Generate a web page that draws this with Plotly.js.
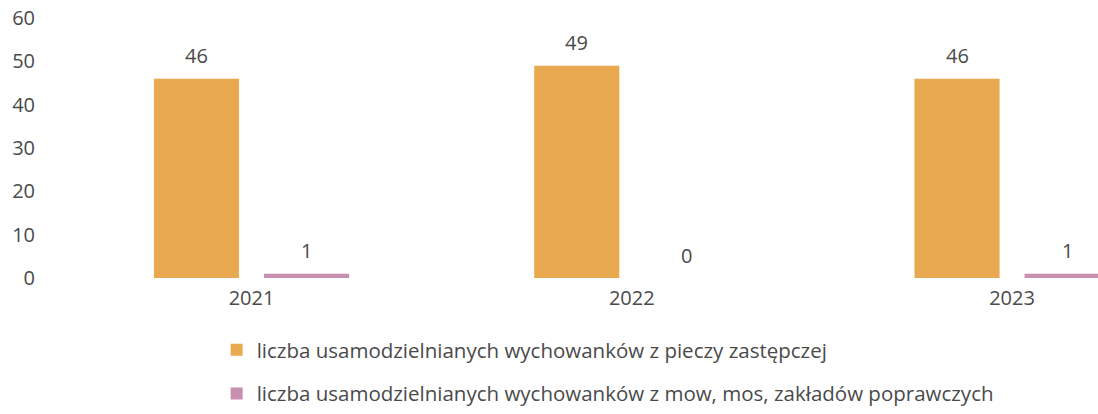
<!DOCTYPE html>
<html>
<head>
<meta charset="utf-8">
<script src="https://cdn.plot.ly/plotly-3.0.1.min.js"></script>
<style>html,body{margin:0;padding:0;background:#fff;}#chart{width:1098px;height:414px;}</style>
</head>
<body>
<div id="chart"></div>
<script>
var years = ['2021', '2022', '2023'];
var seriesNames = [
  'liczba usamodzielnianych wychowanków z pieczy zastępczej',
  'liczba usamodzielnianych wychowanków z mow, mos, zakładów poprawczych'
];
var pieczaValues = [46, 49, 46];
var mowValues = [1, 0, 1];
var yTicks = [0, 10, 20, 30, 40, 50, 60];

var fontFam = '"Open Sans", "Liberation Sans", sans-serif';
var textCol = '#4a4a4a';

var traces = [
  {
    type: 'bar', x: years, y: pieczaValues, name: seriesNames[0],
    marker: {color: '#E8A950'}, legendgroup: 'a'
  },
  {
    type: 'bar', x: years, y: mowValues, name: seriesNames[1],
    marker: {color: '#C98FB0'}, legendgroup: 'b'
  }
];

// data labels above each bar; on a category axis annotations use the category index
var annotations = [];
[pieczaValues, mowValues].forEach(function (vals, s) {
  vals.forEach(function (v, i) {
    annotations.push({
      x: i, y: v, xref: 'x', yref: 'y', text: String(v),
      showarrow: false, xshift: s === 0 ? -55 : 55, yshift: 23,
      font: {family: fontFam, size: 20, color: textCol}
    });
  });
});

var layout = {
  width: 1098, height: 414,
  margin: {l: 50, r: 0, t: 18, b: 131},
  paper_bgcolor: '#fff', plot_bgcolor: '#fff',
  font: {family: fontFam, size: 20, color: textCol},
  barmode: 'group', bargap: 0.421, bargroupgap: 0.227,
  showlegend: true,
  annotations: annotations,
  legend: {
    x: 0.159, y: -0.2, xanchor: 'left', yanchor: 'top',
    orientation: 'v', traceorder: 'grouped', tracegroupgap: 14,
    font: {family: fontFam, size: 20.5, color: textCol},
    itemwidth: 30
  },
  xaxis: {
    type: 'category', range: [-0.53, 2.226],
    showgrid: false, zeroline: false, showline: false, ticks: '',
    ticklabelstandoff: 6,
    tickfont: {family: fontFam, size: 20, color: textCol}
  },
  yaxis: {
    range: [0, 60], tickvals: yTicks, ticktext: yTicks.map(String),
    showgrid: false, zeroline: false, showline: false, ticks: '',
    ticklabelstandoff: 14,
    tickfont: {family: fontFam, size: 20, color: textCol}
  }
};

Plotly.newPlot('chart', traces, layout, {displayModeBar: false, staticPlot: true});
</script>
</body>
</html>
